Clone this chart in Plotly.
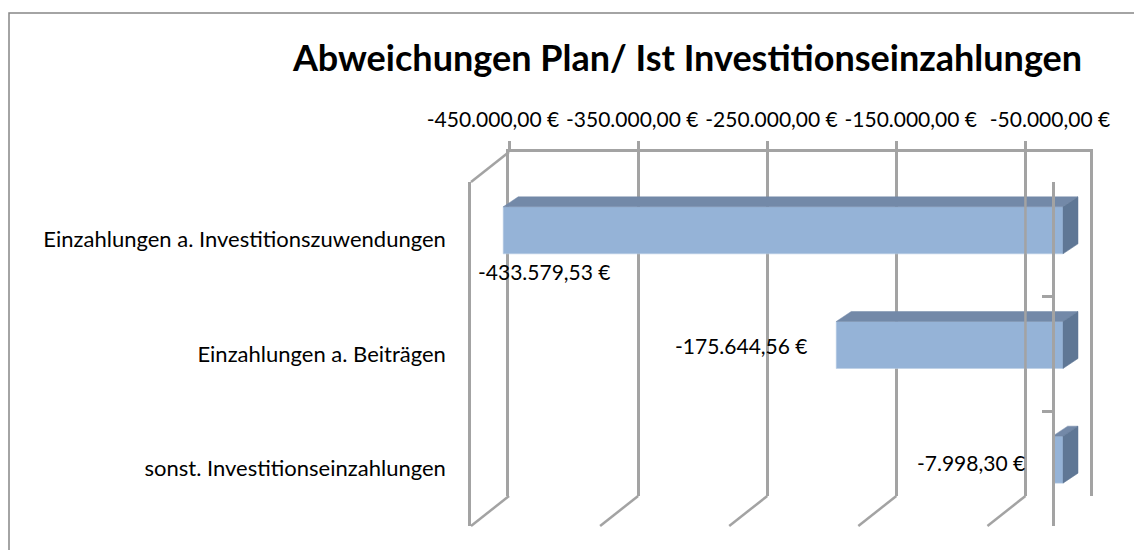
import plotly.graph_objects as go

# ---------------- data ----------------
categories = [
    "Einzahlungen a. Investitionszuwendungen",
    "Einzahlungen a. Beiträgen",
    "sonst. Investitionseinzahlungen",
]
values = [-433579.53, -175644.56, -7998.30]
tick_values = [-450000, -350000, -250000, -150000, -50000]
title_text = "Abweichungen Plan/ Ist Investitionseinzahlungen"


def eur(v):
    s = f"{abs(v):,.2f}".replace(",", "X").replace(".", ",").replace("X", ".")
    return ("-" if v < 0 else "") + s + " €"


# ---------------- geometry / style ----------------
W, H = 1142, 550
OX, OY = 7, 7                                   # page body offset
VMIN, VMAX = -450000, 0
FX0, FX1, FY0, FY1 = 470, 1051, 181, 525        # front plane (screen px)
BACK = (38, -30)                                # back wall offset
BARF = (11, -9)                                 # bar front-face offset
DEPTH = (15, -10)                               # bar depth offset
LBL_X0, LBL_X1, LBL_Y = 492, 1118.6, 131        # value-label plane (perspective)
BAR_W = 0.41
NCAT = len(categories)
SCALE = (FX1 - FX0) / (VMAX - VMIN)
CAT_PX = (FY1 - FY0) / NCAT

GRID = "#A3A3A3"
GW = 2.5
FONT = "Lato"
C_FRONT, C_TOP, C_SIDE = "#95B3D7", "#7389A8", "#5F7795"


def px(x):
    return (x - OX) / W


def py(y):
    return 1 - (y - OY) / H


# bar plane covers the whole figure; ranges derived from the pixel geometry
bx0 = FX1 + BARF[0] - OX
by0 = FY0 + BARF[1] - OY
x2_range = [VMAX - bx0 / SCALE, VMAX + (W - bx0) / SCALE]
y2_range = [(H - by0) / CAT_PX - 0.5, -by0 / CAT_PX - 0.5]
dx_data = DEPTH[0] / SCALE
dy_data = -DEPTH[1] / CAT_PX

fig = go.Figure()


def dummy(xa, ya):
    fig.add_trace(go.Scatter(x=[VMIN], y=[0], mode="none", hoverinfo="skip",
                             showlegend=False, xaxis=xa, yaxis=ya))


# back wall subplot (x / y)
dummy("x", "y")

# 3D faces of bars (bar plane x2 / y2)
for i, v in enumerate(values):
    top = i - BAR_W / 2
    bot = i + BAR_W / 2
    fig.add_trace(go.Scatter(
        x=[v, 0, dx_data, v + dx_data, v],
        y=[top, top, top - dy_data, top - dy_data, top],
        fill="toself", fillcolor=C_TOP, mode="lines",
        line=dict(width=0.5, color=C_TOP), hoverinfo="skip",
        showlegend=False, xaxis="x2", yaxis="y2"))
    fig.add_trace(go.Scatter(
        x=[0, dx_data, dx_data, 0, 0],
        y=[top, top - dy_data, bot - dy_data, bot, top],
        fill="toself", fillcolor=C_SIDE, mode="lines",
        line=dict(width=0.5, color=C_SIDE), hoverinfo="skip",
        showlegend=False, xaxis="x2", yaxis="y2"))

fig.add_trace(go.Bar(
    x=values, y=list(range(NCAT)), orientation="h", width=BAR_W,
    marker=dict(color=C_FRONT, line=dict(width=0.6, color="#B9CCE4")),
    hoverinfo="skip", showlegend=False, xaxis="x2", yaxis="y2"))

# front plane (x3 / y3, y4) and value-label plane (x5 / y5)
dummy("x3", "y3")
dummy("x3", "y4")
dummy("x5", "y5")

# ---------------- decorations ----------------
shapes = []


def back_px(v):
    return FX0 + BACK[0] + (v - VMIN) * SCALE


line_style = dict(color=GRID, width=GW)
# top-left diagonal
shapes.append(dict(type="line", xref="paper", yref="paper",
                   x0=px(back_px(VMIN)), y0=py(FY0 + BACK[1]),
                   x1=px(FX0), y1=py(FY0), line=line_style, layer="below"))
# floor diagonals
for v in tick_values:
    shapes.append(dict(type="line", xref="paper", yref="paper",
                       x0=px(back_px(v)), y0=py(FY1 + BACK[1]),
                       x1=px(back_px(v) - BACK[0]), y1=py(FY1),
                       line=line_style, layer="below"))
# the gridline nearest to zero shows in front of the bars (as in the source)
shapes.append(dict(type="line", xref="paper", yref="paper",
                   x0=px(back_px(tick_values[-1])), y0=py(FY1 + BACK[1]),
                   x1=px(back_px(tick_values[-1])), y1=py(FY0 + BACK[1]),
                   line=line_style, layer="above"))
# chart border
shapes.append(dict(type="rect", xref="paper", yref="paper",
                   x0=px(OX + 1), y0=py(12), x1=px(W + 30), y1=py(H + 30),
                   line=dict(color="#868686", width=1.5), layer="below"))

# data labels
label_style = [("left", -27, -41), ("right", -26, 0), ("right", -26, -3)]
annotations = []
for i, v in enumerate(values):
    anchor, xs, ys = label_style[i]
    annotations.append(dict(
        x=v, y=i, xref="x2", yref="y2", text=eur(v), showarrow=False,
        xanchor=anchor, yanchor="middle", xshift=xs, yshift=ys,
        font=dict(family=FONT, size=21, color="black")))

fig.update_layout(
    width=W, height=H, autosize=False,
    margin=dict(l=0, r=0, t=0, b=0, pad=0),
    paper_bgcolor="white", plot_bgcolor="rgba(0,0,0,0)",
    showlegend=False,
    title=dict(text="<b>" + title_text + "</b>", x=px(686.5), y=py(57),
               xanchor="center", yanchor="middle",
               font=dict(family=FONT, size=36, color="black")),
    xaxis=dict(domain=[px(FX0 + BACK[0]), px(FX1 + BACK[0])],
               range=[VMIN, VMAX], anchor="y", side="top",
               tickvals=tick_values, showticklabels=False,
               showgrid=True, gridcolor=GRID, gridwidth=GW,
               ticks="outside", ticklen=8, tickwidth=GW, tickcolor=GRID,
               showline=True, linecolor=GRID, linewidth=GW,
               zeroline=False, automargin=False),
    yaxis=dict(domain=[py(FY1 + BACK[1]), py(FY0 + BACK[1])],
               range=[0, 1], anchor="x", showgrid=False, zeroline=False,
               showticklabels=False, ticks="", showline=True, mirror=True,
               linecolor=GRID, linewidth=GW, automargin=False),
    xaxis2=dict(domain=[0, 1], range=x2_range, anchor="y2", visible=False,
                automargin=False),
    yaxis2=dict(domain=[0, 1], range=y2_range, anchor="x2", visible=False,
                automargin=False),
    xaxis3=dict(domain=[px(FX0), px(FX1)], range=[VMIN, VMAX], anchor="y3",
                visible=False, automargin=False),
    yaxis3=dict(domain=[py(FY1), py(FY0)], range=[NCAT - 0.5, -0.5],
                anchor="x3", tickvals=list(range(NCAT)), ticktext=categories,
                showgrid=False, zeroline=False, ticks="",
                showline=True, linecolor=GRID, linewidth=GW,
                ticklabelstandoff=18, automargin=False,
                tickfont=dict(family=FONT, size=22, color="black")),
    yaxis4=dict(overlaying="y3", side="right", anchor="x3",
                range=[NCAT - 0.5, -0.5],
                tickvals=[k - 0.5 for k in range(NCAT + 1)],
                showticklabels=False, showgrid=False, zeroline=False,
                ticks="inside", ticklen=10, tickwidth=GW, tickcolor=GRID,
                showline=True, linecolor=GRID, linewidth=GW,
                automargin=False),
    xaxis5=dict(domain=[px(LBL_X0), px(LBL_X1)], range=[VMIN, VMAX],
                anchor="y5", side="top", tickvals=tick_values,
                ticktext=[eur(v) for v in tick_values],
                showgrid=False, zeroline=False, showline=False, ticks="",
                automargin=False,
                tickfont=dict(family=FONT, size=21, color="black")),
    yaxis5=dict(domain=[py(LBL_Y + 10), py(LBL_Y)], range=[0, 1],
                anchor="x5", visible=False, automargin=False),
    shapes=shapes,
    annotations=annotations,
)

fig.write_html("out.html")
